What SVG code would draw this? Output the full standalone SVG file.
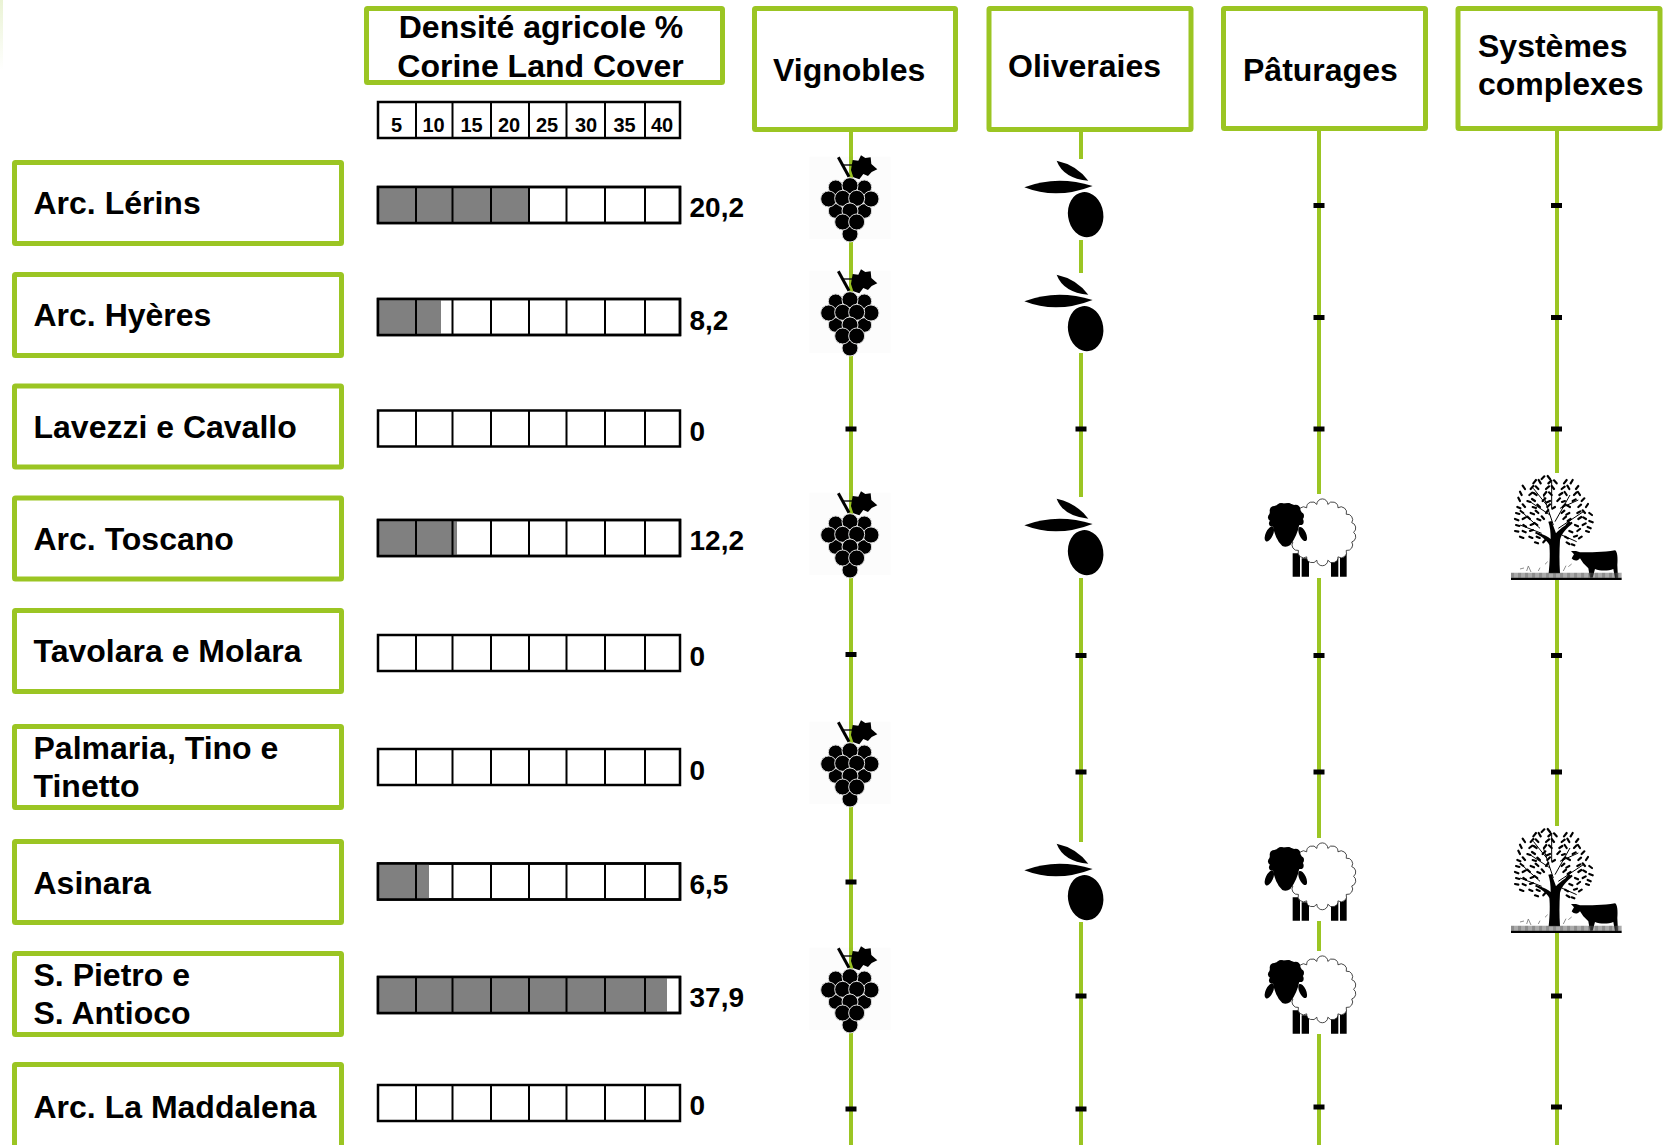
<svg xmlns="http://www.w3.org/2000/svg" xmlns:xlink="http://www.w3.org/1999/xlink" width="1668" height="1145" viewBox="0 0 1668 1145">
<style>
text{font-family:"Liberation Sans",Arial,sans-serif;font-weight:bold;fill:#000}
.t{font-size:32px}
.v{font-size:28px}
.s{font-size:20px;text-anchor:middle}
.box{fill:#fff;stroke:#9bc523;stroke-width:5}
.bar{fill:#fff;stroke:#000;stroke-width:2.5}
.fill{fill:#808080}
.grid{fill:none;stroke:#000;stroke-width:2}
.link{fill:none;stroke:#9bc523;stroke-width:4}
.tick{fill:#000;width:11px;height:5px}
</style>
<defs>
<linearGradient id="fade" x1="0" y1="0" x2="0" y2="1"><stop offset="0" stop-color="#eaf3d4"/><stop offset="1" stop-color="#fff"/></linearGradient>
<path id="cells" class="grid" d="M416 0v36M452.500 0v36M491 0v36M529 0v36M566.500 0v36M605 0v36M645 0v36"/>
<g id="grape" transform="translate(780 130) scale(.3333)">
<rect x="88" y="80" width="245" height="248" fill="#000" opacity=".012"/>
<g fill="#000">
<path d="M213 120L218 90L235 92L243 76L256 84L272 82L274 102L292 118L275 126L264 138L250 132L238 148L220 142Z"/>
<path d="M175 82L207 140" stroke="#000" fill="none" stroke-width="9"/>
<path d="M190 105H220" stroke="#000" fill="none" stroke-width="4"/>
</g>
<g fill="#000" stroke="#ddd" stroke-width="3">
<circle cx="167" cy="172" r="22"/><circle cx="253" cy="172" r="22"/><circle cx="210" cy="167" r="24"/>
<circle cx="167" cy="243" r="22"/><circle cx="253" cy="243" r="22"/>
<circle cx="146" cy="207" r="24"/><circle cx="273" cy="207" r="24"/>
<circle cx="188" cy="205" r="24"/><circle cx="230" cy="205" r="24"/>
<circle cx="210" cy="243" r="24"/>
<circle cx="210" cy="312" r="24"/>
<circle cx="188" cy="276" r="24"/><circle cx="230" cy="276" r="24"/>
</g>
</g>
<g id="olive" transform="translate(780 130) scale(.3333)" fill="#000">
<path d="M733 172Q830 135 938 168Q830 210 733 172Z"/>
<path d="M830 92Q890 105 925 152Q850 145 830 92Z"/>
<ellipse cx="917" cy="254" rx="53" ry="68" transform="rotate(-8 917 254)"/>
</g>
<g id="sheep" transform="translate(1255 490) scale(.3333)">
<g fill="#000">
<path d="M113 190H135V260H113ZM140 205H162V260H140ZM228 205H250V260H228ZM255 190H275V260H255Z"/>
</g>
<path transform="translate(202 127) scale(.92) translate(-205 -125)" fill="#fff" stroke="#222" stroke-width="2.700" d="M307 125A18 18 0 0 1 301 156.500A18 18 0 0 1 283 184A18 18 0 0 1 256 205A18 18 0 0 1 223 216A18 18 0 0 1 187 216A18 18 0 0 1 154 205A18 18 0 0 1 127 184A18 18 0 0 1 109 156.500A18 18 0 0 1 103 125A18 18 0 0 1 109 93.500A18 18 0 0 1 127 66A18 18 0 0 1 154 45A18 18 0 0 1 187 34A18 18 0 0 1 223 34A18 18 0 0 1 256 45A18 18 0 0 1 283 66A18 18 0 0 1 301 93.500A18 18 0 0 1 307 125Z"/>
<g fill="#000">
<ellipse cx="92" cy="78" rx="50" ry="38"/>
<circle cx="58" cy="62" r="14"/><circle cx="78" cy="52" r="13"/><circle cx="100" cy="52" r="13"/><circle cx="122" cy="58" r="14"/><circle cx="136" cy="78" r="11"/><circle cx="136" cy="95" r="10"/><circle cx="50" cy="82" r="11"/><circle cx="52" cy="100" r="10"/>
<path d="M52 100Q60 150 82 168Q94 174 106 165Q126 140 134 100Z"/>
<ellipse cx="43" cy="132" rx="11" ry="24" transform="rotate(25 43 132)"/>
<ellipse cx="143" cy="132" rx="10" ry="23" transform="rotate(-25 143 132)"/>
</g>
</g>
<g id="treecow" transform="translate(1500 465) scale(.3333)">
<g fill="#000">
<path d="M146 325C150 290 150 260 148 240C140 225 125 215 105 205L108 200C130 208 145 215 152 222C152 200 150 185 145 170L155 168C160 185 165 195 168 205C175 195 195 180 215 170L218 175C200 190 185 205 180 225C178 260 178 290 180 325Z"/>
<path d="M33 338H365V345H33Z"/>
<path d="M213 258L228 258L240 262C270 262 310 262 345 256C352 258 354 280 352 300L354 340L345 340L340 312C325 318 300 318 285 312L278 338L270 338L265 310L250 295L240 280C232 290 222 288 215 280L222 268Z"/>
</g>
<path fill="none" stroke="#000" stroke-width="3" d="M160 180L130 90M150 150L90 110M165 170L210 90M175 190L250 140M125 205L60 180M185 210L230 230M155 130L155 50M140 120L100 70M180 130L235 105M120 190L70 145"/>
<path fill="none" stroke="#000" stroke-width="6.500" stroke-linecap="round" d="M125 42l8-8M150 42l-7-9M100 55l8-10M122 55l-6-10M145 55l9-8M170 55l-8-9M192 55l8-10M212 55l6-10M75 72l-7-10M92 72l8-9M115 72l-8-8M138 72l9-8M162 72l-7-9M185 72l9-7M208 72l-6-10M228 72l7-9M65 90l-5-10M88 90l9-7M110 90l-9-6M132 90l7-9M155 90l-8-8M178 90l9-6M200 90l-6-9M222 90l8-8M240 90l-6-9M60 108l-5-10M82 108l9 3M105 108l-9-6M128 108l8-8M150 108l-9 4M172 108l8-8M195 108l-9 3M218 108l9-5M245 108l8-8M52 126l9 4M75 126l-7-8M98 126l10 3M120 126l-8-7M142 126l8-8M165 126l-8 5M188 126l8-8M210 126l-9-5M235 126l8-7M258 126l6-9M48 144l10 3M70 144l-8-6M92 144l10 4M115 144l-8-7M138 144l7-9M185 144l8-7M208 144l-9 5M232 144l9-5M255 144l-7-8M268 144l8 6M45 162l10 4M68 162l9-5M90 162l-8-7M112 162l9 4M132 162l-7-8M190 162l8-7M212 162l-9 6M235 162l9-6M258 162l-8-5M278 172l-10-4M48 180l10 3M70 180l8 5M92 180l9-4M112 180l-8-6M200 180l8-7M225 180l9 4M248 180l9-5M272 190l-9-4M45 198l10 2M68 198l9 4M90 198l9-3M208 198l9 4M232 198l8-6M258 198l9 3M60 215l10 4M88 215l9 4M110 215l9 4M195 215l9 5M222 215l9-3M245 215l-8 5M105 232l9 3M130 232l6-7M200 232l8 5M215 238l8 3"/>
<path fill="none" stroke="#555" stroke-width="16" stroke-dasharray="2 1.500" d="M33 331H365"/>
<path fill="none" stroke="#777" stroke-width="2.500" d="M60 312l12-3M80 318l5-15l8 18M115 318l5-10M135 298l8-8M190 318l8-16M205 305l10-8"/>
</g>
</defs>
<rect width="1668" height="1145" fill="#fff"/>
<rect x="0" y="0" width="3" height="70" fill="url(#fade)"/>

<g id="connectors">
<path class="link" d="M851 131V1145"/>
<path class="link" d="M1081 132V159M1081 240V273M1081 353V497M1081 578V842M1081 922V1145"/>
<path class="link" d="M1319 131V494M1319 578V838M1319 921V951M1319 1034V1145"/>
<path class="link" d="M1557 131V473M1557 580V826M1557 933V1145"/>
<g fill="#000">
<rect class="tick" x="1313.500" y="203"/><rect class="tick" x="1551" y="203"/>
<rect class="tick" x="1313.500" y="315"/><rect class="tick" x="1551" y="315"/>
<rect class="tick" x="845.500" y="426.500"/><rect class="tick" x="1075.500" y="426.500"/><rect class="tick" x="1313.500" y="426.500"/><rect class="tick" x="1551" y="426.500"/>
<rect class="tick" x="845.500" y="652"/><rect class="tick" x="1075.500" y="653"/><rect class="tick" x="1313.500" y="653"/><rect class="tick" x="1551" y="653"/>
<rect class="tick" x="1075.500" y="769.500"/><rect class="tick" x="1313.500" y="769.500"/><rect class="tick" x="1551" y="769.500"/>
<rect class="tick" x="845.500" y="879.500"/>
<rect class="tick" x="1075.500" y="993.500"/><rect class="tick" x="1551" y="993.500"/>
<rect class="tick" x="845.500" y="1106.500"/><rect class="tick" x="1075.500" y="1106.500"/><rect class="tick" x="1313.500" y="1104.500"/><rect class="tick" x="1551" y="1104.500"/>
</g>
</g>

<g id="header-density">
<rect class="box" x="366.500" y="8.500" width="356" height="74" rx="1"/>
<text class="t" x="541" y="38" text-anchor="middle">Densité agricole %</text>
<text class="t" x="540.500" y="77" text-anchor="middle">Corine Land Cover</text>
</g>
<g id="density-scale">
<rect class="bar" x="378" y="102" width="302" height="36"/>
<use xlink:href="#cells" href="#cells" y="102"/>
<text class="s" x="396.500" y="132">5</text><text class="s" x="433.500" y="132">10</text><text class="s" x="471.500" y="132">15</text><text class="s" x="509" y="132">20</text><text class="s" x="547" y="132">25</text><text class="s" x="586" y="132">30</text><text class="s" x="624.500" y="132">35</text><text class="s" x="662" y="132">40</text>
</g>
<g id="header-vignobles"><rect class="box" x="754.500" y="8.500" width="201" height="121" rx="1"/><text class="t" x="773" y="81">Vignobles</text></g>
<g id="header-oliveraies"><rect class="box" x="989" y="8.500" width="202" height="121" rx="1"/><text class="t" x="1008" y="77">Oliveraies</text></g>
<g id="header-paturages"><rect class="box" x="1223.500" y="8.500" width="202" height="120" rx="1"/><text class="t" x="1243" y="81">Pâturages</text></g>
<g id="header-systemes"><rect class="box" x="1458" y="8.500" width="202" height="120" rx="1"/><text class="t" x="1478" y="57">Systèmes</text><text class="t" x="1478" y="95">complexes</text></g>

<g id="row-lerins"><rect class="box" x="14.500" y="162.500" width="327" height="81" rx="1"/><text class="t" x="33.500" y="214">Arc. Lérins</text>
<rect class="bar" x="378" y="187" width="302" height="36"/><rect class="fill" x="378" y="187" width="151" height="36"/><rect class="bar" x="378" y="187" width="302" height="36" style="fill:none"/><use xlink:href="#cells" href="#cells" y="187"/><text class="v" x="689.500" y="217">20,2</text></g>
<g id="row-hyeres"><rect class="box" x="14.500" y="274.500" width="327" height="81" rx="1"/><text class="t" x="33.500" y="326">Arc. Hyères</text>
<rect class="bar" x="378" y="299" width="302" height="36"/><rect class="fill" x="378" y="299" width="63" height="36"/><rect class="bar" x="378" y="299" width="302" height="36" style="fill:none"/><use xlink:href="#cells" href="#cells" y="299"/><text class="v" x="689.500" y="330">8,2</text></g>
<g id="row-lavezzi"><rect class="box" x="14.500" y="386" width="327" height="81" rx="1"/><text class="t" x="33.500" y="438">Lavezzi e Cavallo</text>
<rect class="bar" x="378" y="410.500" width="302" height="36"/><use xlink:href="#cells" href="#cells" y="410.500"/><text class="v" x="689.500" y="441">0</text></g>
<g id="row-toscano"><rect class="box" x="14.500" y="498" width="327" height="81" rx="1"/><text class="t" x="33.500" y="550">Arc. Toscano</text>
<rect class="bar" x="378" y="520" width="302" height="36"/><rect class="fill" x="378" y="520" width="79" height="36"/><rect class="bar" x="378" y="520" width="302" height="36" style="fill:none"/><use xlink:href="#cells" href="#cells" y="520"/><text class="v" x="689.500" y="550">12,2</text></g>
<g id="row-tavolara"><rect class="box" x="14.500" y="610.500" width="327" height="81" rx="1"/><text class="t" x="33.500" y="662">Tavolara e Molara</text>
<rect class="bar" x="378" y="635" width="302" height="36"/><use xlink:href="#cells" href="#cells" y="635"/><text class="v" x="689.500" y="666">0</text></g>
<g id="row-palmaria"><rect class="box" x="14.500" y="726.500" width="327" height="81" rx="1"/><text class="t" x="33.500" y="759">Palmaria, Tino e</text><text class="t" x="33.500" y="797">Tinetto</text>
<rect class="bar" x="378" y="749" width="302" height="36"/><use xlink:href="#cells" href="#cells" y="749"/><text class="v" x="689.500" y="780">0</text></g>
<g id="row-asinara"><rect class="box" x="14.500" y="841.500" width="327" height="81" rx="1"/><text class="t" x="33.500" y="894">Asinara</text>
<rect class="bar" x="378" y="863.500" width="302" height="36"/><rect class="fill" x="378" y="863.500" width="51" height="36"/><rect class="bar" x="378" y="863.500" width="302" height="36" style="fill:none"/><use xlink:href="#cells" href="#cells" y="863.500"/><text class="v" x="689.500" y="894">6,5</text></g>
<g id="row-pietro"><rect class="box" x="14.500" y="953.500" width="327" height="81" rx="1"/><text class="t" x="33.500" y="986">S. Pietro e</text><text class="t" x="33.500" y="1024">S. Antioco</text>
<rect class="bar" x="378" y="977" width="302" height="36"/><rect class="fill" x="378" y="977" width="289" height="36"/><rect class="bar" x="378" y="977" width="302" height="36" style="fill:none"/><use xlink:href="#cells" href="#cells" y="977"/><text class="v" x="689.500" y="1007">37,9</text></g>
<g id="row-maddalena"><rect class="box" x="14.500" y="1064.500" width="327" height="90" rx="1"/><text class="t" x="33.500" y="1118">Arc. La Maddalena</text>
<rect class="bar" x="378" y="1085" width="302" height="36"/><use xlink:href="#cells" href="#cells" y="1085"/><text class="v" x="689.500" y="1115">0</text></g>

<g id="icons">
<use xlink:href="#grape" href="#grape"/><use xlink:href="#grape" href="#grape" y="114"/><use xlink:href="#grape" href="#grape" y="336"/><use xlink:href="#grape" href="#grape" y="565"/><use xlink:href="#grape" href="#grape" y="791"/>
<use xlink:href="#olive" href="#olive"/><use xlink:href="#olive" href="#olive" y="114"/><use xlink:href="#olive" href="#olive" y="338"/><use xlink:href="#olive" href="#olive" y="683"/>
<use xlink:href="#sheep" href="#sheep"/><use xlink:href="#sheep" href="#sheep" y="344"/><use xlink:href="#sheep" href="#sheep" y="457"/>
<use xlink:href="#treecow" href="#treecow"/><use xlink:href="#treecow" href="#treecow" y="353"/>
</g>
</svg>
